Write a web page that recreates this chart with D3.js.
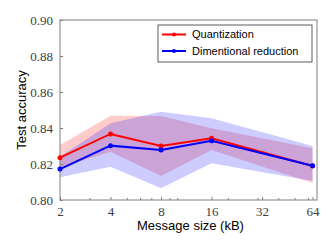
<!DOCTYPE html>
<html>
<head>
<meta charset="utf-8">
<script src="https://cdn.jsdelivr.net/npm/d3@7"></script>
<style>
  body { margin: 0; background: #fff; }
  svg { display: block; }
</style>
</head>
<body>
<div id="chart"></div>
<script>
// message sizes (kB)
const sizes = [2, 4, 8, 16, 64];

// quantization
const quantMean = [0.8235, 0.8367, 0.8300, 0.8343, 0.8189];
const quantHigh = [0.8306, 0.8468, 0.8467, 0.8398, 0.8287];
const quantLow  = [0.8180, 0.8268, 0.8133, 0.8278, 0.8095];

// dimentional reduction
const dimMean = [0.8172, 0.8302, 0.8278, 0.8329, 0.8190];
const dimHigh = [0.8240, 0.8426, 0.8490, 0.8454, 0.8300];
const dimLow  = [0.8126, 0.8185, 0.8065, 0.8204, 0.8105];

const xTicks = [2, 4, 8, 16, 32, 64];
const xMinor = [3, 5, 6, 7, 9, 10, 20, 30, 40, 50, 60];
const yTicks = [0.80, 0.82, 0.84, 0.86, 0.88, 0.90];

const width = 332, height = 249;
const margin = { top: 20, right: 15, bottom: 49, left: 60 };

const svg = d3.select('#chart')
    .append('svg')
    .attr('width', width)
    .attr('height', height);

const x = d3.scaleLog()
    .base(2)
    .domain([2, 68])
    .range([margin.left, width - margin.right]);

const y = d3.scaleLinear()
    .domain([0.80, 0.90])
    .range([height - margin.bottom, margin.top]);

const series = [
    { name: 'Quantization', color: '#ff0000', mean: quantMean, high: quantHigh, low: quantLow },
    { name: 'Dimentional reduction', color: '#0000ff', mean: dimMean, high: dimHigh, low: dimLow }
];

// bands
const area = d3.area()
    .x(d => x(d.s))
    .y0(d => y(d.lo))
    .y1(d => y(d.hi));

svg.append('g')
    .selectAll('path')
    .data(series)
    .join('path')
    .attr('d', d => area(sizes.map((s, i) => ({ s, lo: d.low[i], hi: d.high[i] }))))
    .attr('fill', d => d.color)
    .attr('fill-opacity', 0.2);

// axes box
const axisColor = '#808080';
svg.append('rect')
    .attr('x', margin.left)
    .attr('y', margin.top)
    .attr('width', width - margin.left - margin.right)
    .attr('height', height - margin.top - margin.bottom)
    .attr('fill', 'none')
    .attr('stroke', axisColor)
    .attr('stroke-width', 1);

// x axis
const xAxis = svg.append('g')
    .attr('transform', `translate(0,${height - margin.bottom})`)
    .call(d3.axisBottom(x).tickValues(xTicks).tickFormat(d3.format('d')).tickSize(-3).tickPadding(7))
    .call(g => g.select('.domain').remove());

// minor ticks (no labels)
svg.append('g')
    .attr('transform', `translate(0,${height - margin.bottom})`)
    .call(d3.axisBottom(x).tickValues(xMinor).tickFormat('').tickSize(-2))
    .call(g => g.select('.domain').remove())
    .call(g => g.selectAll('text').remove())
    .selectAll('line').attr('stroke', axisColor);

// y axis
const yAxis = svg.append('g')
    .attr('transform', `translate(${margin.left},0)`)
    .call(d3.axisLeft(y).tickValues(yTicks).tickFormat(d3.format('.2f')).tickSize(-3).tickPadding(7))
    .call(g => g.select('.domain').remove());

[xAxis, yAxis].forEach(g => {
    g.selectAll('line').attr('stroke', axisColor);
    g.selectAll('text')
        .attr('fill', '#404040')
        .style('font-family', '"Liberation Serif", serif')
        .style('font-size', '13px');
});

// lines
const line = d3.line()
    .x(d => x(d.s))
    .y(d => y(d.v));

const gSeries = svg.append('g')
    .selectAll('g')
    .data(series)
    .join('g');

gSeries.append('path')
    .attr('d', d => line(sizes.map((s, i) => ({ s, v: d.mean[i] }))))
    .attr('fill', 'none')
    .attr('stroke', d => d.color)
    .attr('stroke-width', 2);

gSeries.selectAll('circle')
    .data(d => sizes.map((s, i) => ({ s, v: d.mean[i], color: d.color })))
    .join('circle')
    .attr('cx', d => x(d.s))
    .attr('cy', d => y(d.v))
    .attr('r', 2.5)
    .attr('fill', d => d.color);

// axis titles
svg.append('text')
    .attr('x', (margin.left + width - margin.right) / 2 + 2)
    .attr('y', 230)
    .attr('text-anchor', 'middle')
    .style('font-family', '"Liberation Sans", Arial, sans-serif')
    .style('font-size', '13px')
    .text('Message size (kB)');

svg.append('text')
    .attr('transform', `translate(26,110) rotate(-90)`)
    .attr('text-anchor', 'middle')
    .style('font-family', '"Liberation Sans", Arial, sans-serif')
    .style('font-size', '13px')
    .text('Test accuracy');

// legend
const legend = svg.append('g')
    .attr('transform', 'translate(158,25)');

legend.append('rect')
    .attr('width', 154)
    .attr('height', 37)
    .attr('fill', '#fff')
    .attr('stroke', '#333')
    .attr('stroke-width', 0.8);

const item = legend.selectAll('g.item')
    .data(series)
    .join('g')
    .attr('class', 'item')
    .attr('transform', (d, i) => `translate(0,${9.5 + i * 16.5})`);

item.append('line')
    .attr('x1', 4).attr('x2', 28)
    .attr('stroke', d => d.color)
    .attr('stroke-width', 2);

item.append('circle')
    .attr('cx', 16)
    .attr('r', 2)
    .attr('fill', d => d.color);

item.append('text')
    .attr('x', 34)
    .attr('dy', '0.35em')
    .style('font-family', '"Liberation Sans", Arial, sans-serif')
    .style('font-size', '11px')
    .text(d => d.name);
</script>
</body>
</html>
